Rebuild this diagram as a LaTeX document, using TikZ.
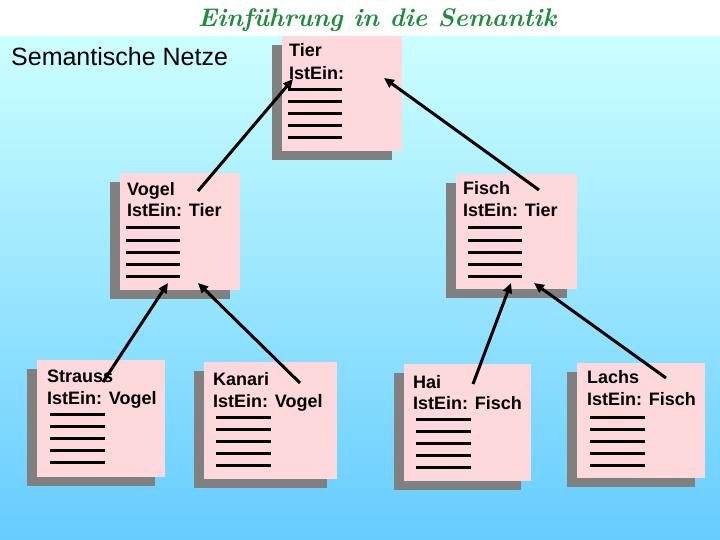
\documentclass[tikz,border=0pt]{standalone}
\usepackage{fontspec}
\setmainfont{Liberation Sans}
\newfontfamily\lmfont{Latin Modern Roman}
\usetikzlibrary{arrows.meta,shadows}
\definecolor{notepink}{RGB}{253,217,222}
\definecolor{shadowgray}{RGB}{128,128,128}
\definecolor{topcyan}{RGB}{204,255,255}
\definecolor{botblue}{RGB}{102,204,255}
\definecolor{titlegreen}{RGB}{30,140,60}
\begin{document}
\begin{tikzpicture}[x=1pt,y=-1pt,
  box/.style={rectangle, fill=notepink, anchor=north west, inner sep=0pt,
    general shadow={fill=shadowgray, shadow xshift=-10pt, shadow yshift=-9pt}},
  lbl/.style={anchor=base west, inner sep=0pt, font=\bfseries\fontsize{18}{21}\selectfont},
  bar/.style={line width=3pt},
  link/.style={line width=3pt, -{Triangle[length=10pt,width=9pt]}},
]
\useasboundingbox (0,0) rectangle (720,540);
% background
\shade[top color=topcyan, bottom color=botblue] (0,36) rectangle (720,540);
\fill[white] (0,0) rectangle (720,36);
% title
\node[text=titlegreen, font=\lmfont\bfseries\itshape\fontsize{25.5}{30}\selectfont] (title) at (377,20) {Einführung in die Semantik};
\node[anchor=base west, inner sep=0pt, font=\fontsize{25}{30}\selectfont] (sub) at (11,66) {Semantische Netze};

% Tier
\node[box, minimum width=120pt, minimum height=115pt] (tier) at (282,36) {};
\node[lbl] (tierA) at (289,57) {Tier};
\node[lbl] (tierB) at (289,80) {IstEin:};
\foreach \yy in {90,102,114,126,138} \draw[bar] (288,\yy) -- (342,\yy);
\coordinate (tierH1) at (293,79);
\coordinate (tierH2) at (384,78);

% Vogel
\node[box, minimum width=120pt, minimum height=117pt] (vogel) at (120,173) {};
\node[lbl] (vogelA) at (127,196) {Vogel};
\node[lbl] (vogelB) at (127,217) {IstEin: Tier};
\foreach \yy in {228,240,252,264,276} \draw[bar] (126,\yy) -- (180,\yy);
\coordinate (vogelS) at (198,191);
\coordinate (vogelH1) at (168,283);
\coordinate (vogelH2) at (198,283);

% Fisch
\node[box, minimum width=121pt, minimum height=115pt] (fisch) at (456,174) {};
\node[lbl] (fischA) at (463,195) {Fisch};
\node[lbl] (fischB) at (463,217) {IstEin: Tier};
\foreach \yy in {228,240,252,264,276} \draw[bar] (468,\yy) -- (522,\yy);
\coordinate (fischS) at (539,190);
\coordinate (fischH1) at (511,283);
\coordinate (fischH2) at (534,283);

% Strauss
\node[box, minimum width=128pt, minimum height=117pt] (strauss) at (37,360) {};
\node[lbl] (straussA) at (47,382) {Strauss};
\node[lbl] (straussB) at (47,404) {IstEin: Vogel};
\foreach \yy in {414,426,438,450,462} \draw[bar] (50,\yy) -- (105,\yy);
\coordinate (straussS) at (103,382);

% Kanari
\node[box, minimum width=133pt, minimum height=117pt] (kanari) at (204,362) {};
\node[lbl] (kanariA) at (213,385) {Kanari};
\node[lbl] (kanariB) at (213,407) {IstEin: Vogel};
\foreach \yy in {417,429,441,453,465} \draw[bar] (216,\yy) -- (271,\yy);
\coordinate (kanariS) at (300,383);

% Hai
\node[box, minimum width=127pt, minimum height=117pt] (hai) at (404,364) {};
\node[lbl] (haiA) at (413,388) {Hai};
\node[lbl] (haiB) at (413,409) {IstEin: Fisch};
\foreach \yy in {419,431,443,455,467} \draw[bar] (416,\yy) -- (471,\yy);
\coordinate (haiS) at (473,384);

% Lachs
\node[box, minimum width=128pt, minimum height=115pt] (lachs) at (577,363) {};
\node[lbl] (lachsA) at (587,383) {Lachs};
\node[lbl] (lachsB) at (587,405) {IstEin: Fisch};
\foreach \yy in {417,429,441,453,465} \draw[bar] (590,\yy) -- (645,\yy);
\coordinate (lachsS) at (666,378);

% connectors
\draw[link] (vogelS) -- (tierH1);
\draw[link] (fischS) -- (tierH2);
\draw[link] (straussS) -- (vogelH1);
\draw[link] (kanariS) -- (vogelH2);
\draw[link] (haiS) -- (fischH1);
\draw[link] (lachsS) -- (fischH2);
\end{tikzpicture}
\end{document}
